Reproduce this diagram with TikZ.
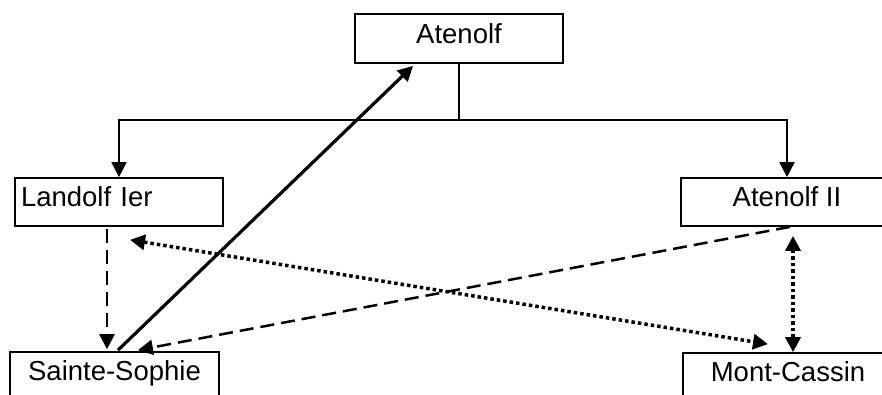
\documentclass[tikz,border=0pt]{standalone}
\usepackage{fontspec}
\setmainfont{Liberation Sans}
\usetikzlibrary{arrows.meta}
\begin{document}
\begin{tikzpicture}[x=1pt,y=-1pt,
    caja/.style={draw,line width=1.7pt,rectangle,inner sep=0pt,
        minimum height=48pt,text height=20pt,text depth=11pt,
        font=\fontsize{27.5}{31}\selectfont},
    flecha/.style={-{Triangle[length=15pt,width=15pt]}},
    doble/.style={{Triangle[length=15pt,width=15pt]}-{Triangle[length=15pt,width=15pt]}},
    rayas/.style={line width=2.5pt,dash pattern=on 14pt off 7pt},
    puntos/.style={line width=3.5pt,dash pattern=on 3.5pt off 3pt}]
        \useasboundingbox (0,0) rectangle (882,394);
        \clip (0,0) rectangle (882,394);

        % Cajas
        \node[caja,minimum width=208pt,minimum height=49pt] (atenolf) at (459,38.5) {Atenolf};
        \node[caja,minimum width=208pt,text width=196pt,align=left] (landolf) at (119,202) {Landolf Ier};
        \node[caja,minimum width=212pt] (atenolf2) at (787,202) {Atenolf II};
        \node[caja,minimum width=209pt] (sophie) at (114.5,376) {Sainte-Sophie};
        \node[caja,minimum width=210pt] (cassin) at (788,377) {Mont-Cassin};

        % Descendencia
        \coordinate (fork) at (459,120);
        \draw[line width=1.7pt] (atenolf.south) -- (fork);
        \draw[line width=1.7pt,flecha] (fork) -| (landolf.north);
        \draw[line width=1.7pt,flecha] (fork) -| (atenolf2.north);

        % Relaciones
        \draw[rayas,flecha] ([shift={(-12,2)}]landolf.south) -- ([shift={(-7.5,-2)}]sophie.north);
        \draw[line width=3.2pt,flecha] ([shift={(3.5,-1)}]sophie.north) -- ([shift={(-46,2)}]atenolf.south);
        \draw[rayas,flecha] ([shift={(3,0)}]atenolf2.south) -- ([shift={(23.5,-1)}]sophie.north);
        \draw[puntos,doble] ([shift={(11,13)}]landolf.south) -- ([shift={(-20,-8)}]cassin.north);
        \draw[puntos,doble] ([shift={(6,9)}]atenolf2.south) -- ([shift={(5,0)}]cassin.north);
\end{tikzpicture}
\end{document}
